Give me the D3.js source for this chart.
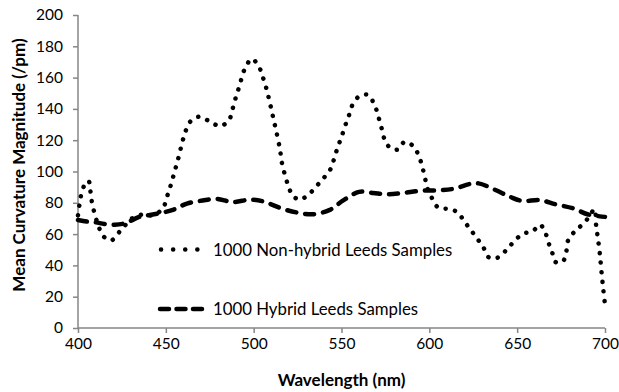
<!DOCTYPE html>
<html><head><meta charset="utf-8">
<script src="https://cdn.jsdelivr.net/npm/d3@7"></script>
<style>body{margin:0;background:#fff}svg{display:block}text{font-family:Lato,sans-serif;fill:#000}</style>
</head><body><svg id="c" width="619" height="392"></svg>
<script>
const xTicks = [400,450,500,550,600,650,700];
const yTicks = [0,20,40,60,80,100,120,140,160,180,200];
const seriesNames = ["1000 Non-hybrid Leeds Samples","1000 Hybrid Leeds Samples"];
const nonHybrid = [[400,72],[401,80],[402,86],[404,92],[406,94],[407,88],[408,80],[410,71],[412,64],[415,58],[419,56],[424,62],[428,67],[432,71],[437,72.5],[442,72],[446,74],[449,78],[451,85],[453,92],[455,100],[457,108],[459,117],[461,125],[464,132],[469,135],[475,132],[481,129],[486,133],[488,140],[490,148],[492,155],[494,163],[496,168],[499,172],[503,167],[505,161],[507,154],[509,145],[511,135],[513,125],[515,114],[516,106],[518,97],[520,90],[522,85],[526,82],[531,85],[536,91],[540,96],[544,102],[546,109],[548,116],[550,122],[552,129],[554,135],[556,142],[560,148],[565,149],[569,142],[571,135],[573,127],[575,119],[578,115],[582,114],[586,119],[591,116],[594,110],[596,103],[597.5,96],[599,89],[601.5,83],[605,77],[611,76],[616,74],[620,68],[624,62],[628,56],[631,51],[634,45],[639,45],[644,50],[648,55],[653,60],[659,62],[663,66],[666,61],[668,54],[670,48],[672,42],[676,42.5],[678,49],[679,56],[683,62],[687,66],[691,71],[694,76],[695,65],[696,57],[697,48],[698,36],[699,25],[700,15]];
const hybrid = [[400,69],[405,68],[410,67.5],[415,66.5],[421,66],[427,67],[435,71],[445,73],[454,75.5],[462,79.5],[471,81.5],[479,82.5],[488,80.5],[498,82],[505,81],[510,79],[517,76],[526,73.5],[534,72.7],[543,75.3],[551,81.5],[560,87],[568,86.3],[576,85.5],[585,86.3],[595,87.7],[606,88],[614,89],[623,92],[628,92.4],[638,88],[646,83.8],[653,81.2],[663,81.7],[672,79],[682,76.4],[690,72.7],[700,71]];

const svg = d3.select("#c");
const m = {l:78, r:605, t:15, b:328};
const x = d3.scaleLinear().domain([400,700]).range([m.l,m.r]);
const y = d3.scaleLinear().domain([0,200]).range([m.b,m.t]);
const axisColor = "#868686";

const gx = svg.append("g").attr("transform",`translate(0,${m.b})`)
  .call(d3.axisBottom(x).tickValues(xTicks).tickSize(5).tickPadding(5).tickFormat(d3.format("d")));
const gy = svg.append("g").attr("transform",`translate(${m.l},0)`)
  .call(d3.axisLeft(y).tickValues(yTicks).tickSize(5).tickPadding(10).tickFormat(d3.format("d")));
[gx,gy].forEach(g=>{
  g.selectAll("path,line").attr("stroke",axisColor).attr("stroke-width",1.5);
  g.selectAll("text").attr("font-size",15.5).attr("font-family","Lato").attr("fill","#000");
});
gx.select(".domain").attr("d",`M${m.l},0H${m.r}`);
gy.select(".domain").attr("d",`M0,${m.t}V${m.b}`);

const line = d3.line().x(d=>x(d[0])).y(d=>y(d[1])).curve(d3.curveCatmullRom.alpha(0.5));
svg.append("path").datum(hybrid).attr("d",line).attr("fill","none").attr("stroke","#000")
  .attr("stroke-width",4.5).attr("stroke-dasharray","9 9").attr("stroke-linecap","round");
svg.append("path").datum(nonHybrid).attr("d",line).attr("fill","none").attr("stroke","#000")
  .attr("stroke-width",4.5).attr("stroke-dasharray","0.1 9.5").attr("stroke-linecap","round");

// legend
const lg = svg.append("g");
lg.append("line").attr("x1",161).attr("x2",209).attr("y1",249.5).attr("y2",249.5)
  .attr("stroke","#000").attr("stroke-width",4.5).attr("stroke-dasharray","0.1 12").attr("stroke-linecap","round");
lg.append("line").attr("x1",160).attr("x2",204).attr("y1",309).attr("y2",309)
  .attr("stroke","#000").attr("stroke-width",4.5).attr("stroke-dasharray","9 7.5").attr("stroke-linecap","round");
lg.append("text").attr("x",213).attr("y",255.5).attr("font-size",16.8).text(seriesNames[0]);
lg.append("text").attr("x",213).attr("y",315).attr("font-size",16.8).text(seriesNames[1]);

svg.append("text").attr("x",(m.l+m.r)/2).attr("y",386).attr("text-anchor","middle")
  .attr("font-size",17).attr("font-weight","bold").text("Wavelength (nm)");
svg.append("text").attr("transform",`translate(25,165) rotate(-90)`).attr("text-anchor","middle")
  .attr("font-size",17).attr("font-weight","bold").text("Mean Curvature Magnitude (/pm)");
</script></body></html>
